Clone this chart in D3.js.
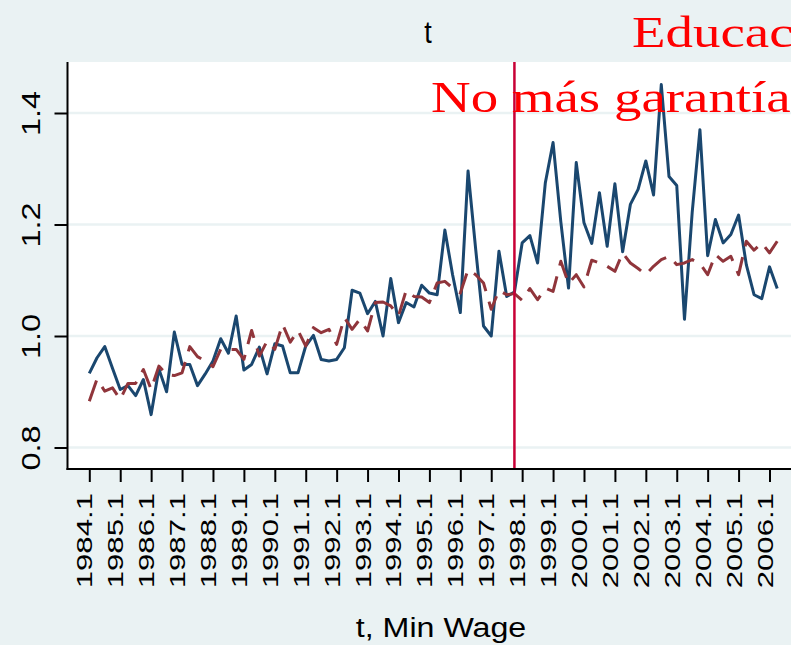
<!DOCTYPE html>
<html>
<head>
<meta charset="utf-8">
<script src="https://cdn.jsdelivr.net/npm/d3@7"></script>
<style>
  body { margin: 0; background: #eaf2f3; overflow: hidden; }
  svg { display: block; }
</style>
</head>
<body>
<div id="chart"></div>
<script>
"use strict";

// trimestres 1984.1 ... 2006.2 (una observación por trimestre)
const tickLabels = ["1984.1", "1985.1", "1986.1", "1987.1", "1988.1", "1989.1", "1990.1",
  "1991.1", "1992.1", "1993.1", "1994.1", "1995.1", "1996.1", "1997.1", "1998.1",
  "1999.1", "2000.1", "2001.1", "2002.1", "2003.1", "2004.1", "2005.1", "2006.1"];

const serieAzul = [0.933, 0.961, 0.981, 0.942, 0.904, 0.911, 0.893, 0.922, 0.859, 0.941,
  0.900, 1.007, 0.949, 0.949, 0.911, 0.932, 0.955, 0.995, 0.969, 1.036,
  0.939, 0.949, 0.980, 0.932, 0.986, 0.982, 0.934, 0.934, 0.982, 1.001,
  0.958, 0.955, 0.958, 0.979, 1.082, 1.077, 1.040, 1.062, 1.000, 1.103,
  1.024, 1.060, 1.052, 1.091, 1.077, 1.074, 1.190, 1.110, 1.042, 1.296,
  1.154, 1.018, 1.000, 1.152, 1.071, 1.079, 1.167, 1.180, 1.131, 1.275,
  1.347, 1.205, 1.086, 1.311, 1.203, 1.166, 1.257, 1.161, 1.273, 1.151,
  1.236, 1.263, 1.314, 1.253, 1.451, 1.286, 1.270, 1.030, 1.222, 1.370,
  1.144, 1.209, 1.167, 1.182, 1.217, 1.128, 1.074, 1.067, 1.124, 1.085];

const serieRoja = [0.883, 0.923, 0.901, 0.907, 0.886, 0.915, 0.915, 0.940, 0.904, 0.946,
  0.931, 0.929, 0.934, 0.981, 0.963, 0.955, 0.945, 0.976, 0.976, 0.976,
  0.958, 1.010, 0.964, 0.991, 0.976, 1.021, 0.989, 1.010, 0.982, 1.015,
  1.006, 1.012, 0.985, 1.033, 1.012, 1.030, 1.009, 1.060, 1.061, 1.054,
  1.036, 1.082, 1.071, 1.070, 1.060, 1.095, 1.098, 1.086, 1.077, 1.119,
  1.110, 1.095, 1.048, 1.082, 1.074, 1.076, 1.064, 1.085, 1.065, 1.086,
  1.080, 1.134, 1.094, 1.110, 1.088, 1.136, 1.131, 1.125, 1.116, 1.149,
  1.131, 1.121, 1.110, 1.125, 1.137, 1.143, 1.128, 1.131, 1.137, 1.130,
  1.110, 1.146, 1.134, 1.143, 1.110, 1.170, 1.154, 1.167, 1.149, 1.170];

const yTicks = [0.8, 1.0, 1.2, 1.4];
const corte = 55; // 1997.4

const W = 791, H = 645;
const plotL = 67.5, plotT = 62, plotB = 469;
const sans = "Liberation Sans, Arial, sans-serif";
const serif = "Liberation Serif, Times New Roman, serif";

const svg = d3.select("#chart").append("svg")
  .attr("width", W)
  .attr("height", H);

svg.append("rect")
  .attr("width", W).attr("height", H)
  .attr("fill", "#eaf2f3");

const x = d3.scaleLinear().domain([0, 88]).range([89.3, 769.5]);
const y = d3.scaleLinear().domain([0.8, 1.4]).range([447.5, 113]);

// plot region
svg.append("rect")
  .attr("x", plotL).attr("y", plotT)
  .attr("width", W - plotL + 10).attr("height", plotB - plotT)
  .attr("fill", "white");

// gridlines
svg.append("g").selectAll("line")
  .data(yTicks)
  .join("line")
  .attr("x1", plotL).attr("x2", W)
  .attr("y1", d => y(d)).attr("y2", d => y(d))
  .attr("stroke", "#eaf2f3")
  .attr("stroke-width", 2.5);

// series
const line = d3.line()
  .x((d, i) => x(i))
  .y(d => y(d));

svg.append("path")
  .datum(serieAzul)
  .attr("d", line)
  .attr("fill", "none")
  .attr("stroke", "#1a476f")
  .attr("stroke-width", 3)
  .attr("stroke-linejoin", "round");

svg.append("path")
  .datum(serieRoja)
  .attr("d", line)
  .attr("fill", "none")
  .attr("stroke", "#90353b")
  .attr("stroke-width", 3)
  .attr("stroke-dasharray", "22,11")
  .attr("stroke-linejoin", "round");

// vertical line
svg.append("line")
  .attr("x1", x(corte)).attr("x2", x(corte))
  .attr("y1", plotT).attr("y2", plotB)
  .attr("stroke", "#c80036")
  .attr("stroke-width", 2.5);

// y axis
const yAxis = svg.append("g")
  .attr("transform", `translate(${plotL},0)`)
  .call(d3.axisLeft(y).tickValues(yTicks).tickSize(13).tickFormat(d3.format(".1f")));
yAxis.select(".domain").remove();
yAxis.selectAll(".tick line").attr("stroke", "black").attr("stroke-width", 2);
yAxis.selectAll(".tick text")
  .attr("x", null).attr("dy", null)
  .attr("transform", "translate(-27.5,0) rotate(-90) scale(1.3,1)")
  .attr("text-anchor", "middle")
  .attr("font-family", sans)
  .attr("font-size", 25)
  .attr("fill", "black");
svg.append("line")
  .attr("x1", plotL).attr("x2", plotL)
  .attr("y1", plotT).attr("y2", plotB + 1)
  .attr("stroke", "black").attr("stroke-width", 2);

// x axis
const xAxis = svg.append("g")
  .attr("transform", `translate(0,${plotB})`)
  .call(d3.axisBottom(x).tickValues(d3.range(0, 89, 4)).tickSize(13)
    .tickFormat((d, i) => tickLabels[i]));
xAxis.select(".domain").remove();
xAxis.selectAll(".tick line").attr("stroke", "black").attr("stroke-width", 2);
xAxis.selectAll(".tick text")
  .attr("y", null).attr("dy", null)
  .attr("transform", "translate(2.5,24) rotate(-90) scale(1.45,1)")
  .attr("x", 0)
  .attr("text-anchor", "end")
  .attr("font-family", sans)
  .attr("font-size", 21.5)
  .attr("fill", "black");
svg.append("line")
  .attr("x1", plotL - 1).attr("x2", W)
  .attr("y1", plotB).attr("y2", plotB)
  .attr("stroke", "black").attr("stroke-width", 2);

// titles
svg.append("text")
  .attr("transform", "translate(428,43) scale(1,1.15)")
  .attr("text-anchor", "middle")
  .attr("font-family", sans)
  .attr("font-size", 27)
  .text("t");

svg.append("text")
  .attr("transform", "translate(441,637) scale(1.15,1)")
  .attr("text-anchor", "middle")
  .attr("font-family", sans)
  .attr("font-size", 28)
  .text("t, Min Wage");

// red notes (cut at the right edge, as in the original)
svg.append("text")
  .attr("transform", "translate(632,47) scale(1.22,1)")
  .attr("font-family", serif)
  .attr("font-size", 45)
  .attr("fill", "#ff0000")
  .text("Educación");

svg.append("text")
  .attr("transform", "translate(431,112) scale(1.22,1)")
  .attr("font-family", serif)
  .attr("font-size", 45)
  .attr("fill", "#ff0000")
  .text("No más garantía");
</script>
</body>
</html>
